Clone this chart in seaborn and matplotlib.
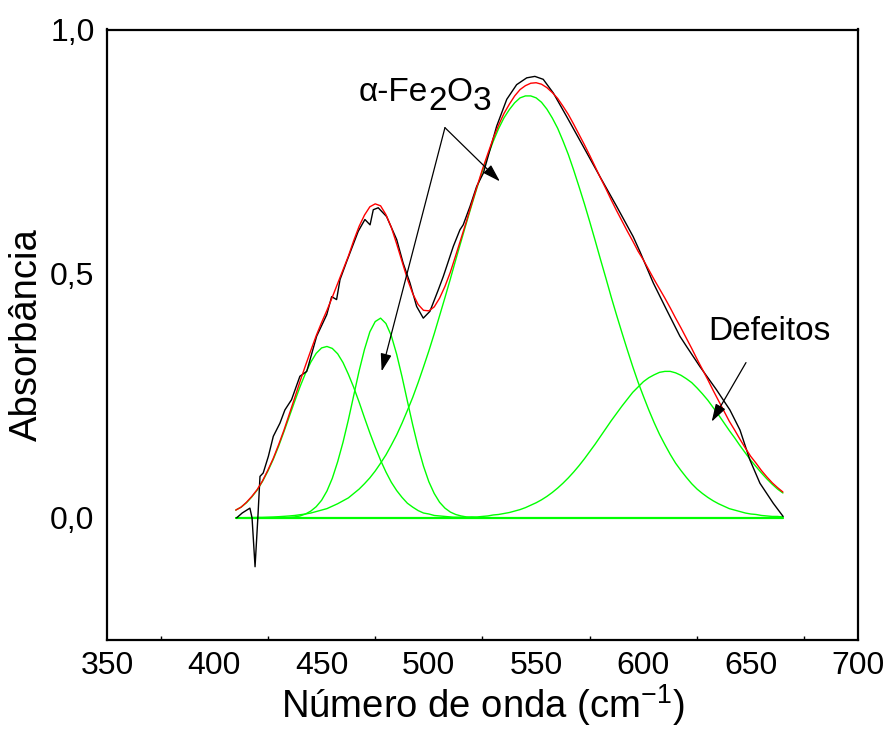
import numpy as np
import pandas as pd
import matplotlib
matplotlib.use("Agg")
import matplotlib.pyplot as plt
import seaborn as sns
from matplotlib.ticker import MultipleLocator, FixedLocator

sns.set_style("white")
plt.rcParams['font.family'] = ['Liberation Sans', 'DejaVu Sans']
plt.rcParams['mathtext.fontset'] = 'custom'
plt.rcParams['mathtext.rm'] = 'Liberation Sans'
plt.rcParams['mathtext.it'] = 'Liberation Sans:italic'
plt.rcParams['mathtext.bf'] = 'Liberation Sans:bold'
plt.rcParams['text.color'] = 'black'
plt.rcParams['axes.labelcolor'] = 'black'
plt.rcParams['xtick.color'] = 'black'
plt.rcParams['ytick.color'] = 'black'

# ---- data ----
wavenumber = [410, 412.5, 415, 417.5, 420, 422.5, 425, 427.5, 430, 432.5, 435, 437.5,
              440, 442.5, 445, 447.5, 450, 452.5, 455, 457.5, 460, 462.5, 465, 467.5,
              470, 472.5, 475, 477.5, 480, 482.5, 485, 487.5, 490, 492.5, 495, 497.5,
              500, 502.5, 505, 507.5, 510, 512.5, 515, 517.5, 520, 522.5, 525, 527.5,
              530, 532.5, 535, 537.5, 540, 542.5, 545, 547.5, 550, 552.5, 555, 557.5,
              560, 562.5, 565, 567.5, 570, 572.5, 575, 577.5, 580, 582.5, 585, 587.5,
              590, 592.5, 595, 597.5, 600, 602.5, 605, 607.5, 610, 612.5, 615, 617.5,
              620, 622.5, 625, 627.5, 630, 632.5, 635, 637.5, 640, 642.5, 645, 647.5,
              650, 652.5, 655, 657.5, 660, 662.5, 665]

peak1 = [0.016, 0.022, 0.031, 0.043, 0.057, 0.075, 0.096, 0.120, 0.147, 0.177, 0.208,
         0.239, 0.269, 0.296, 0.319, 0.337, 0.348, 0.351, 0.347, 0.336, 0.318, 0.294,
         0.267, 0.237, 0.205, 0.174, 0.145, 0.118, 0.094, 0.073, 0.056, 0.042, 0.030,
         0.022, 0.015, 0.010, 0.008, 0.005, 0.004, 0.003, 0.002, 0.001, 0.001] + [0.0] * 60

peak2 = [0.0] * 10 + [0.001, 0.002, 0.004, 0.008, 0.014, 0.023, 0.036, 0.055, 0.081,
                      0.115, 0.155, 0.201, 0.251, 0.301, 0.345, 0.381, 0.402, 0.409,
                      0.398, 0.373, 0.335, 0.289, 0.239, 0.190, 0.145, 0.106, 0.074,
                      0.050, 0.032, 0.020, 0.012, 0.007, 0.004, 0.002, 0.001] + [0.0] * 58

peak3 = [0.0003, 0.0004, 0.0005, 0.0007, 0.001, 0.0011, 0.0015, 0.0019, 0.0025, 0.0032,
         0.004, 0.005, 0.0065, 0.008, 0.010, 0.013, 0.016, 0.019, 0.024, 0.029, 0.035,
         0.041, 0.050, 0.059, 0.070, 0.082, 0.096, 0.112, 0.129, 0.149, 0.170, 0.194,
         0.220, 0.247, 0.277, 0.309, 0.342, 0.377, 0.414, 0.451, 0.489, 0.528, 0.566,
         0.604, 0.641, 0.677, 0.711, 0.742, 0.771, 0.797, 0.819, 0.836, 0.850, 0.860,
         0.864, 0.864, 0.860, 0.851, 0.837, 0.819, 0.798, 0.772, 0.744, 0.712, 0.678,
         0.643, 0.606, 0.568, 0.529, 0.491, 0.452, 0.415, 0.379, 0.344, 0.310, 0.278,
         0.249, 0.221, 0.195, 0.171, 0.150, 0.130, 0.112, 0.097, 0.083, 0.070, 0.059,
         0.050, 0.042, 0.035, 0.029, 0.024, 0.019, 0.016, 0.013, 0.010, 0.008, 0.007,
         0.005, 0.004, 0.003, 0.003, 0.002]

peak4 = [0.0] * 41 + [0.001, 0.001, 0.001, 0.002, 0.002, 0.003, 0.004, 0.006, 0.007,
                      0.009, 0.011, 0.014, 0.017, 0.021, 0.026, 0.031, 0.037, 0.044,
                      0.052, 0.061, 0.071, 0.082, 0.094, 0.107, 0.121, 0.136, 0.151,
                      0.167, 0.183, 0.199, 0.214, 0.229, 0.243, 0.257, 0.268, 0.279,
                      0.287, 0.293, 0.298, 0.300, 0.300, 0.297, 0.292, 0.285, 0.277,
                      0.266, 0.254, 0.241, 0.226, 0.211, 0.195, 0.179, 0.164, 0.148,
                      0.133, 0.118, 0.105, 0.092, 0.080, 0.069, 0.059, 0.051]

fit_total = [0.016, 0.022, 0.032, 0.044, 0.058, 0.076, 0.098, 0.122, 0.150, 0.180,
             0.213, 0.246, 0.280, 0.312, 0.343, 0.373, 0.400, 0.425, 0.452, 0.480,
             0.508, 0.536, 0.568, 0.597, 0.620, 0.637, 0.643, 0.639, 0.621, 0.595,
             0.561, 0.525, 0.489, 0.459, 0.437, 0.425, 0.424, 0.432, 0.450, 0.474,
             0.503, 0.537, 0.572, 0.607, 0.644, 0.679, 0.714, 0.746, 0.777, 0.804,
             0.828, 0.847, 0.864, 0.877, 0.885, 0.890, 0.891, 0.888, 0.881, 0.871,
             0.859, 0.843, 0.826, 0.806, 0.785, 0.764, 0.742, 0.719, 0.696, 0.674,
             0.651, 0.629, 0.608, 0.587, 0.567, 0.546, 0.528, 0.508, 0.488, 0.469,
             0.450, 0.430, 0.409, 0.389, 0.368, 0.347, 0.325, 0.304, 0.283, 0.261,
             0.240, 0.219, 0.198, 0.180, 0.161, 0.143, 0.126, 0.112, 0.097, 0.084,
             0.072, 0.062, 0.053]

exp_x = [410.4, 413.0, 416.6, 417.6, 419.0, 420.3, 421.3, 422.8, 425.2, 427.5, 430.6,
         432.9, 436.0, 439.9, 443.1, 447.7, 452.4, 454.7, 457.0, 458.6, 461.7, 467.1,
         470.2, 472.6, 474.1, 476.4, 480.3, 485.0, 488.0, 491.2, 494.3, 497.4, 500.5,
         504.4, 506.7, 508.3, 511.4, 514.5, 516.0, 519.2, 522.3, 525.4, 528.5, 531.6,
         536.3, 540.9, 545.6, 549.4, 553.3, 558.0, 564.2, 571.9, 579.7, 587.5, 595.2,
         598.4, 604.6, 610.8, 617.0, 620.1, 626.3, 634.1, 640.3, 645.0, 649.6, 654.3,
         660.5, 665.1]
exp_y = [0.0, 0.010, 0.020, 0.0, -0.100, 0.0, 0.085, 0.092, 0.126, 0.167, 0.194,
         0.221, 0.242, 0.290, 0.300, 0.372, 0.416, 0.453, 0.447, 0.488, 0.525, 0.587,
         0.611, 0.600, 0.631, 0.635, 0.617, 0.570, 0.522, 0.481, 0.433, 0.409, 0.423,
         0.467, 0.494, 0.515, 0.556, 0.590, 0.600, 0.638, 0.679, 0.706, 0.754, 0.802,
         0.857, 0.887, 0.901, 0.904, 0.898, 0.870, 0.822, 0.761, 0.699, 0.638, 0.576,
         0.545, 0.481, 0.426, 0.372, 0.351, 0.310, 0.262, 0.221, 0.180, 0.119, 0.071,
         0.030, 0.003]

baseline_x = [410, 665]
baseline_y = [0.0, 0.0]

x_ticks = [350, 400, 450, 500, 550, 600, 650, 700]
y_ticks = [0.0, 0.5, 1.0]
y_ticklabels = ["0,0", "0,5", "1,0"]

# ---- figure ----
fig = plt.figure(figsize=(8.88, 7.31), dpi=100)
ax = fig.add_axes([107/888, 1 - 640/731, (858-107)/888, (640-29.5)/731])

green = "#00ff00"
sns.lineplot(x=baseline_x, y=baseline_y, ax=ax, color=green, lw=1.6)
for pk in (peak1, peak2, peak3, peak4):
    sns.lineplot(x=wavenumber, y=pk, ax=ax, color=green, lw=1.0, sort=False)
sns.lineplot(x=exp_x, y=exp_y, ax=ax, color="black", lw=1.0, sort=False)
sns.lineplot(x=wavenumber, y=fit_total, ax=ax, color="#ff0000", lw=1.0, sort=False)

ax.set_xlim(350, 700)
ax.set_ylim(-0.25, 1.0)
ax.xaxis.set_major_locator(FixedLocator(x_ticks))
ax.xaxis.set_minor_locator(MultipleLocator(25))
ax.yaxis.set_major_locator(FixedLocator(y_ticks))
ax.set_yticklabels(y_ticklabels)
ax.tick_params(axis='x', which='major', direction='in', length=4, width=1,
               labelsize=23, pad=8, colors='black')
ax.tick_params(axis='x', which='minor', direction='in', length=3, width=1, bottom=True)
ax.tick_params(axis='y', which='major', length=0, labelsize=23, pad=9, colors='black')
for sp in ax.spines.values():
    sp.set_visible(True)
    sp.set_color('black')
    sp.set_linewidth(1.6)

ax.set_xlabel("Número de onda (cm$^{-1}$)", fontsize=27.5, labelpad=0.5, color='black')
ax.set_ylabel("Absorbância", fontsize=27.5, labelpad=4, color='black')

# annotations
fs_ann = 24
t1 = ax.text(467.4, 0.853, "α-Fe", fontsize=fs_ann, va='baseline', ha='left')
t2 = ax.annotate("2", xy=(1, 0), xycoords=t1, xytext=(0, -6.5),
                 textcoords='offset points', fontsize=fs_ann, va='bottom', ha='left')
t3 = ax.annotate("O", xy=(1, 0), xycoords=t2, xytext=(0, 6.5),
                 textcoords='offset points', fontsize=fs_ann, va='bottom', ha='left')
t4 = ax.annotate("3", xy=(1, 0), xycoords=t3, xytext=(0, -6.5),
                 textcoords='offset points', fontsize=fs_ann, va='bottom', ha='left')

arrow_kw = dict(arrowstyle='-|>,head_length=0.9,head_width=0.28', color='black',
                lw=0.9, shrinkA=0, shrinkB=0, mutation_scale=12)
vertex = (507.5, 0.799)
ax.annotate("", xy=(478.0, 0.30), xytext=vertex, arrowprops=arrow_kw)
ax.annotate("", xy=(533.1, 0.689), xytext=vertex, arrowprops=arrow_kw)

ax.text(630.1, 0.365, "Defeitos", fontsize=fs_ann, va='baseline', ha='left')
ax.annotate("", xy=(631.8, 0.197), xytext=(647.8, 0.318), arrowprops=arrow_kw)

fig.savefig("out.png", dpi=100)
